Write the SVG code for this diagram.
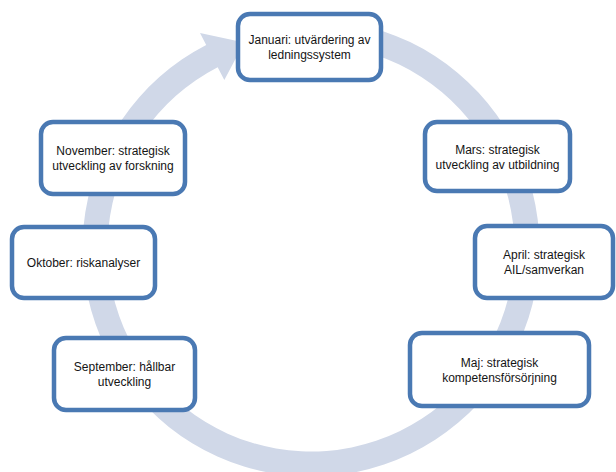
<svg xmlns="http://www.w3.org/2000/svg" width="616" height="472" viewBox="0 0 616 472">
<style>
.box{fill:#ffffff;stroke:#4a79b3;stroke-width:4.5}
.t{font-family:"Liberation Sans",Arial,sans-serif;font-size:12px;fill:#141414;text-anchor:middle}
.ring{fill:#d0d8e8;stroke:none}
</style>
<rect width="616" height="472" fill="#ffffff"/>
<g id="connectors">
<path class="ring" d="M271.32,22.97 A228.5,228.5 0 1 1 206.20,44.95 L200.01,32.95 L244.25,42.57 L224.32,80.05 L217.66,67.17 A203.5,203.5 0 1 0 275.66,47.59 Z"/>
</g>
<g id="januari">
<rect class="box" x="238" y="14" width="143" height="66" rx="12"/>
<text class="t" x="309.5" y="44">Januari: utvärdering av</text>
<text class="t" x="309.5" y="59">ledningssystem</text>
</g>
<g id="mars">
<rect class="box" x="425" y="122" width="145" height="69" rx="12"/>
<text class="t" x="497.5" y="153.5">Mars: strategisk</text>
<text class="t" x="497.5" y="168.5">utveckling av utbildning</text>
</g>
<g id="april">
<rect class="box" x="475" y="226" width="138" height="72" rx="12"/>
<text class="t" x="544" y="259">April: strategisk</text>
<text class="t" x="544" y="274">AIL/samverkan</text>
</g>
<g id="maj">
<rect class="box" x="410" y="333" width="179" height="73" rx="12"/>
<text class="t" x="499.5" y="366.5">Maj: strategisk</text>
<text class="t" x="499.5" y="381.5">kompetensförsörjning</text>
</g>
<g id="september">
<rect class="box" x="54" y="338" width="141" height="72" rx="12"/>
<text class="t" x="124.5" y="371">September: hållbar</text>
<text class="t" x="124.5" y="386">utveckling</text>
</g>
<g id="oktober">
<rect class="box" x="12" y="227" width="143" height="71" rx="12"/>
<text class="t" x="83.5" y="266.5">Oktober: riskanalyser</text>
</g>
<g id="november">
<rect class="box" x="41" y="122" width="144" height="72" rx="12"/>
<text class="t" x="113" y="155">November: strategisk</text>
<text class="t" x="113" y="170">utveckling av forskning</text>
</g>
</svg>
